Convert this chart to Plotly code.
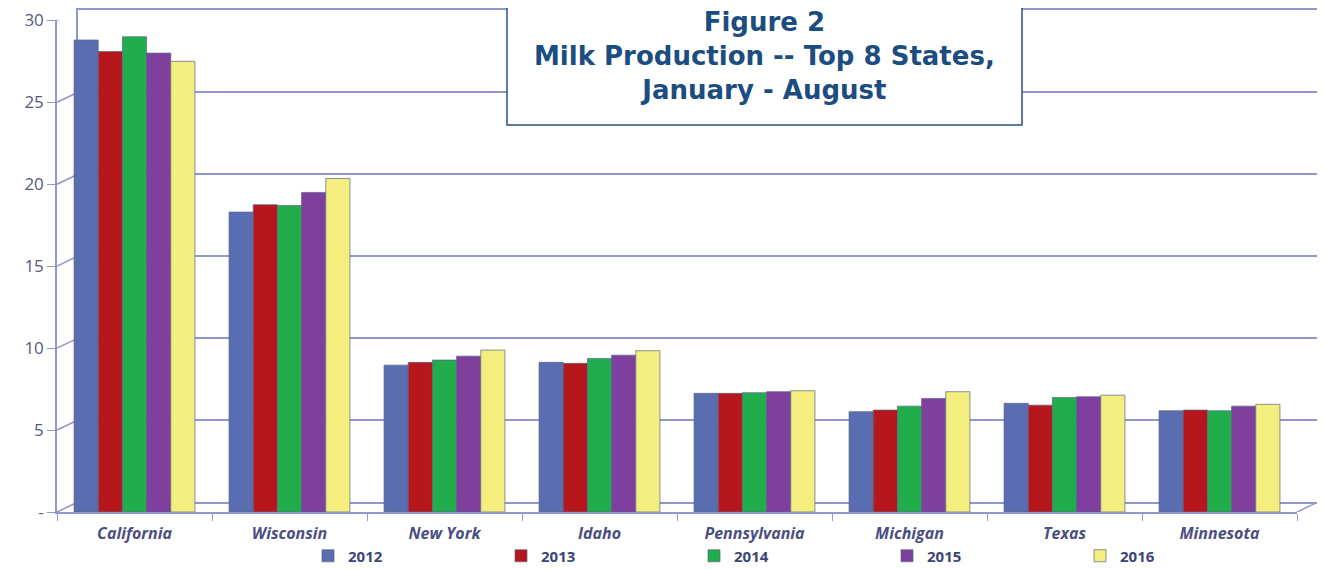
import plotly.graph_objects as go

states = ["California", "Wisconsin", "New York", "Idaho", "Pennsylvania", "Michigan", "Texas", "Minnesota"]
years = ["2012", "2013", "2014", "2015", "2016"]
v2012 = [28.8, 18.3, 8.96, 9.13, 7.24, 6.12, 6.63, 6.18]
v2013 = [28.1, 18.75, 9.13, 9.07, 7.24, 6.22, 6.52, 6.22]
v2014 = [29.0, 18.7, 9.27, 9.37, 7.28, 6.46, 6.99, 6.18]
v2015 = [28.0, 19.5, 9.51, 9.57, 7.34, 6.93, 7.03, 6.46]
v2016 = [27.5, 20.35, 9.88, 9.84, 7.40, 7.34, 7.13, 6.57]
series = [v2012, v2013, v2014, v2015, v2016]
colors = ["#5a6db0", "#b5171d", "#22ad4c", "#7f3f9d", "#f4ee7e"]
yticks = [0, 5, 10, 15, 20, 25, 30]
yticktext = ["-", "5", "10", "15", "20", "25", "30"]

OFF = 8  # page body margin of the browser
W, H = 1325 - OFF, 569 - OFF
L, T = 57 - OFF, 10 - OFF
R = W - (1318 - OFF)
B = H - (512 - OFF)
pw = W - L - R
ph = H - T - B
dx, dy = 21, 10  # depth offset of the back wall in px
grid_c = "#8f97cc"


def px_x(px):
    return (px - OFF - L) / pw


def px_y(py):
    return (H - B - (py - OFF)) / ph


fig = go.Figure()
# back wall (first subplot, drawn underneath)
fig.add_trace(go.Scatter(x=[], y=[], xaxis="x", yaxis="y", showlegend=False, hoverinfo="skip"))
for name, vals, c in zip(years, series, colors):
    fig.add_trace(go.Bar(
        x=states, y=vals, name=name, xaxis="x2", yaxis="y2",
        marker=dict(color=c, line=dict(color="rgba(90,100,140,0.7)", width=1)),
    ))

fig.update_layout(
    width=W, height=H,
    margin=dict(l=L, r=R, t=T, b=B, autoexpand=False),
    paper_bgcolor="white", plot_bgcolor="rgba(0,0,0,0)",
    barmode="group", bargap=0.22, bargroupgap=0,
    xaxis=dict(domain=[dx / pw, 1], range=[0, 1], showgrid=False, zeroline=False,
               showticklabels=False, showline=True, linecolor=grid_c, linewidth=1.5, mirror=True),
    yaxis=dict(domain=[dy / ph, 1], range=[0, 30], tickvals=yticks, showticklabels=False,
               showgrid=True, gridcolor=grid_c, gridwidth=1.5, zeroline=False,
               showline=True, linecolor=grid_c, linewidth=1.5, mirror=True, anchor="x"),
    xaxis2=dict(domain=[0, 1 - dx / pw], anchor="y2", range=[-0.5, 7.5], showgrid=False,
                showline=True, linecolor=grid_c, linewidth=1.5,
                ticks="outside", tickson="boundaries", ticklen=7, tickcolor=grid_c,
                ticklabelstandoff=6,
                tickfont=dict(family="Open Sans", size=16, color="#4b4f80", weight="bold", style="italic")),
    yaxis2=dict(domain=[0, 1 - dy / ph], anchor="x2", range=[0, 30.02], tickvals=yticks, ticktext=yticktext,
                showgrid=False, zeroline=False, showline=True, linecolor=grid_c, linewidth=1.5,
                ticks="outside", ticklen=8, tickcolor=grid_c,
                tickfont=dict(family="Open Sans", size=17, color="#555a80")),
    legend=dict(orientation="h", xref="container", yref="container",
                x=(308 - OFF) / W, xanchor="left", y=(H - (556 - OFF)) / H, yanchor="middle",
                bgcolor="rgba(0,0,0,0)",
                entrywidth=148, entrywidthmode="pixels", traceorder="normal",
                font=dict(family="Open Sans", size=15, color="#3c4676", weight="bold")),
    showlegend=True,
)

# depth connectors from front axis to back wall
shapes = []
unit = (ph - dy) / 30.02
for v in yticks:
    shapes.append(dict(type="line", xref="paper", yref="y2", x0=0, x1=dx / pw,
                       y0=v, y1=v + dy / unit, line=dict(color=grid_c, width=1.5), layer="below"))
shapes.append(dict(type="line", xref="paper", yref="y2", x0=1 - dx / pw, x1=1,
                   y0=0, y1=dy / unit, line=dict(color=grid_c, width=1.5), layer="below"))
# title box
shapes.append(dict(type="rect", xref="paper", yref="paper",
                   x0=px_x(507), x1=px_x(1022), y0=px_y(125), y1=1.2,
                   fillcolor="white", line=dict(color="#2d4f86", width=1.5), layer="above"))
fig.update_layout(shapes=shapes)

fig.add_annotation(
    xref="paper", yref="paper", x=px_x(764), y=px_y(56),
    text="Figure 2<br>Milk Production -- Top 8 States,<br>January - August",
    showarrow=False, align="center", xanchor="center", yanchor="middle",
    font=dict(family="DejaVu Sans", size=26, color="#1c4d80", weight="bold"),
)

fig.write_html("out.html")
